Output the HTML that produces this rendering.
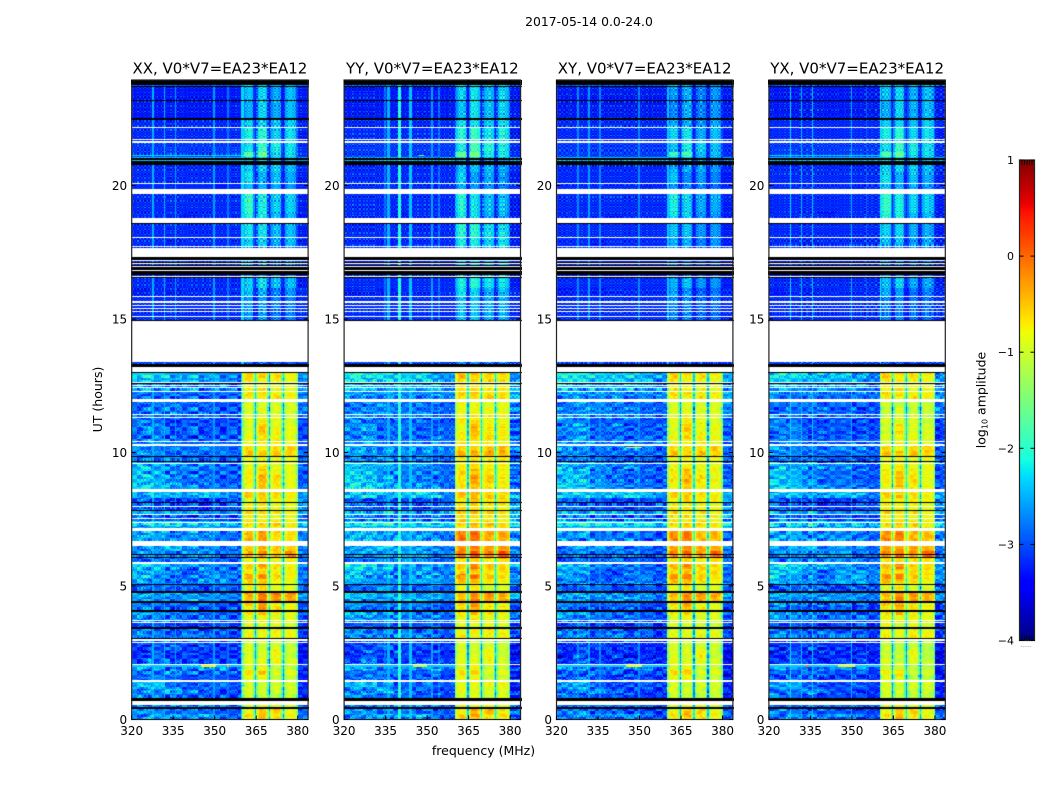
<!DOCTYPE html>
<html lang="en">
<head>
<meta charset="utf-8">
<title>2017-05-14 dynamic spectra</title>
<style>
  html, body { margin: 0; padding: 0; background: #fff; }
  #figure { position: relative; width: 1050px; height: 800px; overflow: hidden; background: #fff; }
  #figure canvas { position: absolute; display: block; }
  #overlay { position: absolute; left: 0; top: 0; }
  text { font-family: "DejaVu Sans", "Liberation Sans", sans-serif; fill: #000; }
</style>
</head>
<body>
<div id="figure">
  <svg id="overlay" width="1050" height="800" viewBox="0 0 1050 800">
    <text x="589" y="26" text-anchor="middle" font-size="12.4">2017-05-14 0.0-24.0</text>
    <text x="483.5" y="755" text-anchor="middle" font-size="12.5">frequency (MHz)</text>
    <text transform="translate(102 399.5) rotate(-90)" text-anchor="middle" font-size="12.5">UT (hours)</text>
    <text transform="translate(985.5 400) rotate(-90)" text-anchor="middle" font-size="12.5">log<tspan font-size="8" dy="2">10</tspan><tspan dy="-2"> amplitude</tspan></text>
    <text x="1026" y="647" text-anchor="middle" font-size="6" style="fill:#777">......</text>
  </svg>
</div>
<script>
// Axis ticks and labels
const frequencyTicks = [320, 335, 350, 365, 380];
const hourTicks = [0, 5, 10, 15, 20];
const colorTicks = [1, 0, -1, -2, -3, -4];
const panelTitles = ["XX, V0*V7=EA23*EA12", "YY, V0*V7=EA23*EA12", "XY, V0*V7=EA23*EA12", "YX, V0*V7=EA23*EA12"];

// Frequency bin edges (MHz) for the background columns
const backgroundEdges = [320, 326, 332, 338, 344, 350, 355, 360];

// Upper time edge (hours) of every row of the level tables below
const rowTops = [
  0.10,0.20,0.40,0.70,0.95,1.15,1.42,1.65,1.85,2.05,2.30,2.60,2.85,3.03,3.25,3.45,3.65,3.90,4.10,4.25,
  4.45,4.60,4.80,5.07,5.25,5.45,5.65,5.90,6.10,6.30,6.50,6.80,7.06,7.25,7.45,7.65,7.85,8.10,8.30,8.60,
  8.85,9.15,9.40,9.65,9.87,10.05,10.30,10.50,10.75,11.05,11.30,11.45,11.90,12.10,12.30,12.60,12.80,13.01,13.40,15.85,
  16.15,16.55,17.70,18.05,18.60,19.00,19.70,20.10,20.50,20.90,21.05,21.25,21.65,22.15,22.50,23.20,23.70,24.00
];

// Background level per row and frequency bin, in tenths of log10 amplitude
const backgroundLevels = [
  [-26,-25,-27,-28,-27,-28,-29],[-27,-24,-25,-24,-23,-26,-28],[-25,-26,-28,-27,-28,-29,-29],[-27,-27,-26,-26,-26,-27,-28],
  [-25,-27,-29,-28,-29,-29,-30],[-27,-26,-24,-27,-28,-30,-30],[-24,-23,-27,-29,-28,-27,-29],[-28,-26,-28,-30,-28,-29,-30],
  [-27,-28,-26,-27,-29,-27,-29],[-24,-25,-28,-26,-25,-25,-28],[-30,-27,-29,-31,-29,-30,-30],[-31,-28,-31,-29,-31,-30,-31],
  [-30,-29,-28,-30,-29,-31,-30],[-29,-28,-27,-28,-28,-29,-29],[-26,-27,-28,-26,-27,-29,-30],[-27,-28,-29,-28,-30,-28,-30],
  [-30,-29,-30,-31,-30,-29,-31],[-26,-27,-27,-28,-28,-28,-29],[-24,-25,-27,-27,-28,-29,-29],[-27,-29,-30,-28,-29,-30,-30],
  [-26,-27,-28,-28,-27,-29,-30],[-25,-26,-27,-24,-25,-26,-27],[-24,-25,-25,-26,-26,-26,-27],[-29,-28,-27,-29,-30,-28,-29],
  [-25,-26,-27,-27,-25,-26,-27],[-23,-26,-28,-28,-26,-25,-28],[-24,-24,-27,-29,-26,-27,-27],[-22,-23,-25,-26,-26,-27,-28],
  [-28,-27,-28,-26,-27,-28,-29],[-26,-26,-27,-26,-25,-28,-27],[-26,-25,-24,-26,-26,-27,-28],[-24,-26,-25,-25,-26,-28,-28],
  [-25,-24,-27,-26,-26,-27,-28],[-25,-24,-25,-24,-24,-25,-26],[-22,-21,-21,-23,-23,-22,-24],[-27,-29,-29,-30,-29,-30,-30],
  [-24,-25,-24,-25,-26,-26,-26],[-28,-29,-30,-30,-31,-30,-29],[-29,-30,-30,-31,-31,-31,-29],[-24,-23,-25,-24,-23,-24,-27],
  [-22,-23,-25,-26,-27,-27,-28],[-23,-24,-26,-28,-27,-29,-29],[-23,-24,-27,-27,-28,-28,-28],[-24,-25,-25,-27,-26,-28,-29],
  [-27,-28,-27,-29,-28,-29,-29],[-26,-26,-28,-27,-28,-27,-28],[-25,-27,-27,-27,-26,-27,-28],[-27,-25,-28,-28,-28,-28,-28],
  [-28,-27,-29,-29,-29,-29,-29],[-27,-26,-29,-28,-29,-30,-29],[-27,-28,-30,-29,-29,-30,-30],[-26,-27,-28,-27,-27,-28,-29],
  [-28,-27,-27,-28,-28,-29,-29],[-28,-29,-29,-28,-29,-29,-29],[-27,-28,-27,-28,-28,-28,-28],[-25,-26,-27,-26,-27,-26,-29],
  [-23,-24,-25,-24,-25,-25,-28],[-22,-22,-24,-25,-24,-26,-27],[-31,-31,-31,-31,-31,-31,-31],[-32,-32,-32,-32,-32,-32,-32],
  [-33,-32,-33,-32,-32,-32,-32],[-32,-32,-32,-32,-32,-32,-32],[-32,-32,-32,-32,-32,-32,-32],[-32,-32,-33,-32,-32,-32,-32],
  [-32,-32,-32,-32,-32,-32,-32],[-32,-32,-32,-33,-32,-32,-32],[-32,-32,-32,-32,-32,-32,-32],[-32,-32,-32,-32,-32,-33,-32],
  [-32,-32,-32,-32,-32,-32,-32],[-32,-32,-32,-32,-32,-32,-32],[-24,-24,-24,-24,-24,-24,-24],[-31,-31,-31,-31,-31,-31,-31],
  [-31,-31,-31,-31,-31,-31,-31],[-32,-32,-32,-32,-32,-32,-32],[-32,-32,-32,-32,-32,-32,-32],[-33,-33,-33,-33,-33,-33,-33],
  [-33,-33,-33,-33,-33,-33,-33],[-29,-29,-29,-29,-29,-29,-29]
];

// Level of the four bright 360-380 MHz blocks per row, XX panel, tenths of log10 amplitude
const blockLevels = [
  [-8,-6,-7,-9],[-7,-5,-8,-8],[-9,-6,-6,-9],[-10,-9,-9,-10],[-11,-11,-12,-11],[-10,-11,-11,-11],[-10,-11,-10,-10],[-9,-9,-11,-11],
  [-7,-6,-10,-9],[-10,-9,-11,-11],[-9,-10,-9,-10],[-10,-10,-8,-11],[-10,-11,-10,-11],[-10,-10,-11,-11],[-8,-9,-8,-8],[-9,-9,-8,-9],
  [-9,-10,-9,-10],[-9,-8,-9,-9],[-7,-6,-8,-9],[-8,-4,-7,-8],[-6,-3,-8,-9],[-5,-2,-3,-4],[-4,-2,-2,-3],[-8,-7,-9,-9],
  [-6,-6,-8,-9],[-4,-3,-7,-8],[-8,-7,-8,-8],[-6,-4,-7,-8],[-9,-8,-9,-8],[-4,-3,-5,-2],[-6,-5,-6,-6],[-4,-3,-7,-7],
  [-5,-4,-7,-7],[-9,-7,-8,-8],[-7,-7,-6,-8],[-8,-8,-9,-9],[-6,-7,-7,-8],[-8,-8,-9,-9],[-9,-7,-8,-8],[-6,-6,-7,-8],
  [-9,-6,-8,-9],[-8,-5,-7,-9],[-8,-6,-8,-9],[-9,-8,-9,-9],[-9,-9,-9,-9],[-5,-6,-5,-6],[-7,-8,-7,-6],[-9,-8,-8,-9],
  [-9,-7,-8,-9],[-10,-6,-9,-9],[-9,-8,-9,-10],[-10,-9,-9,-10],[-10,-10,-10,-10],[-8,-9,-7,-8],[-7,-7,-8,-8],[-8,-8,-9,-9],
  [-7,-9,-8,-9],[-6,-7,-7,-8],[-27,-27,-28,-28],[-25,-25,-26,-26],[-23,-24,-26,-25],[-22,-21,-23,-23],[-24,-24,-25,-25],[-22,-22,-24,-23],
  [-21,-21,-23,-23],[-19,-20,-23,-23],[-18,-20,-22,-22],[-23,-24,-24,-25],[-21,-24,-23,-24],[-22,-22,-22,-23],[-22,-21,-22,-22],[-16,-15,-21,-21],
  [-21,-18,-20,-21],[-20,-19,-22,-21],[-22,-22,-23,-22],[-24,-22,-24,-23],[-23,-22,-24,-23],[-20,-21,-22,-22]
];

// Level of the 380-384 MHz edge per row, tenths of log10 amplitude
const edgeLevels = [
  -27,-27,-28,-27,-31,-31,-31,-32,-32,-30,-33,-33,-32,-31,-30,-30,-31,-29,-28,-30,
  -29,-26,-25,-28,-27,-27,-27,-26,-27,-27,-27,-26,-27,-25,-22,-27,-25,-26,-26,-25,
  -28,-29,-29,-28,-29,-28,-28,-29,-30,-30,-29,-28,-27,-27,-27,-27,-27,-26,-31,-32,
  -32,-33,-32,-33,-33,-33,-33,-32,-33,-32,-25,-32,-32,-33,-32,-33,-33,-28
];

// Shape across the 360-380 MHz blocks, one value per 0.5 MHz channel, tenths
const blockProfile = [
  -5,-2,0,1,1,1,1,0,-6,-16,
  -5,-1,1,1,1,1,1,-1,-7,-16,
  -4,-1,0,1,1,1,0,0,-7,-16,
  -6,-1,0,1,1,1,0,0,-1,-5
];
const profileFloor = -33;

// Coarse time bins (upper edge, hours) for the per-panel offsets
const offsetBinTops = [1.5, 3, 4.5, 5.1, 6, 7.1, 8.6, 10.3, 12, 13.2, 16, 18.6, 21, 24];
const blockOffsetXX = [0,0,0,0,0,0,0,0,0,0,-2,-2,-2,-2];
const blockOffsetYY = [1,0,0,-1,1,3,1,1,1,1,0,0,-3,-1];
const blockOffsetXY = [0,0,-1,-1,1,2,0,0,0,0,-3,-4,-4,-4];
const blockOffsetYX = [0,-1,0,-1,1,2,0,0,-1,0,-3,-3,-2,-2];
const backgroundOffsetXX = [-1,-1,-1,-1,-1,-1,-1,-1,-1,-1,0,0,0,0];
const backgroundOffsetYY = [-1,-1,0,0,0,0,0,0,0,1,0,0,0,0];
const backgroundOffsetXY = [-2,-2,-1,-1,-2,-2,0,-1,0,1,0,0,0,0];
const backgroundOffsetYX = [-2,-2,-1,-1,0,-1,-1,-1,-1,0,0,0,0,0];

// Narrow-band interference: [MHz, level in tenths], one list per panel
const channelLinesXX = [[327.7,-25],[331.7,-25],[335.6,-26],[349.7,-26],[354.8,-28],[360,-23]];
const channelLinesYY = [[334.9,-28],[336,-25],[340,-20],[344,-24],[351.9,-26],[354.2,-28]];
const channelLinesXY = [[327.9,-27],[331.9,-26],[335.8,-27],[349.9,-27],[360.2,-24]];
const channelLinesYX = [[327.9,-23],[331.9,-25],[335.8,-24],[349.9,-25],[355.1,-29],[360.2,-22]];

// Short-lived interference: [hour, MHz from, MHz to, level in tenths], one list per panel
const burstsXX = [[2.0,320,360,-24],[2.0,345,350.5,-8],[2.0,333.5,334.2,-1],[2.0,354.5,355,-4],[21.13,320,360,-23],[21.13,333.5,334.2,-4],[21.13,347.8,348.4,0]];
const burstsYY = [[2.0,320,360,-24],[2.0,345,350,-11],[2.0,333.5,334.2,0],[21.13,347,349,-14]];
const burstsXY = [[2.0,320,360,-24],[2.0,345,351,-8],[2.0,333.5,334.2,0],[10.2,345,351,-9]];
const burstsYX = [[2.0,320,360,-24],[2.0,345,351,-9],[2.0,333.5,334.2,0],[21.13,320,360,-23],[21.13,347.8,348.4,0]];

// Flagged time ranges: [hour from, hour to]
const whiteGaps = [
  [22.15,22.19],[21.69,21.73],[21.61,21.65],[20.05,20.09],[19.68,19.88],[18.59,18.79],[18.03,18.07],[17.68,17.72],[17.33,17.66],
  [17.16,17.20],[17.05,17.09],[16.93,16.97],[16.81,16.85],[16.56,16.61],[15.81,15.85],[15.60,15.67],[15.49,15.52],[15.38,15.42],
  [15.27,15.31],[15.07,15.11],[13.39,14.93],[13.01,13.21],[12.61,12.65],[12.50,12.54],[12.43,12.46],[12.28,12.31],[11.89,12.00],
  [11.42,11.46],[11.29,11.33],[10.39,10.43],[10.24,10.32],[9.58,9.62],[8.53,8.63],[7.96,8.00],[7.67,7.71],[7.51,7.56],[7.35,7.40],
  [7.15,7.19],[7.06,7.13],[6.50,6.68],[5.83,5.90],[3.68,3.73],[3.60,3.64],[2.95,3.00],[2.86,2.91],[2.03,2.07],[1.42,1.49],[0.53,0.70]
];
const blackGaps = [
  [23.78,24.00],[23.70,23.74],[23.16,23.20],[22.46,22.51],[20.95,21.03],[20.82,20.92],[20.75,20.79],[18.55,18.59],[17.20,17.32],
  [17.09,17.15],[16.97,17.04],[16.85,16.93],[16.63,16.80],[16.52,16.56],[14.93,14.96],[13.21,13.32],[12.98,13.01],[12.56,12.60],
  [9.82,9.87],[9.64,9.68],[8.09,8.13],[7.81,7.85],[6.15,6.21],[6.07,6.10],[5.03,5.07],[4.73,4.82],[4.37,4.45],[4.04,4.11],
  [3.40,3.45],[3.03,3.07],[0.70,0.81],[0.40,0.46]
];

// Cell-to-cell texture of the noise floor, estimated
const grainRows = [.3,-.8,.6,-.2,.9,-.5,.1,-.9,.7,.4,-.6,.2,-1,.8,-.3,.5,-.7,1,-.1,.6,-.9,.3,.7,-.4,-.8,.9,.2,-.5,.6,-.2,.8,-1,.4,.1,-.7,.9,-.3,.5,-.6,.7,-.9,.2,1,-.4,.3,-.8,.6,-.1,.8,-.5,.4,-.7,.9];
const grainCols = [-.6,.9,-.2,.5,-1,.3,.8,-.4,.7,-.9,.1,.6,-.7,1,-.3,.4,-.8,.2,.9,-.5,-.1,.7,-.6,.8,-.9,.3,.5,-.2,1,-.7,.4,-.4,.9,-.8,.1,.6,-1,.7,.2,-.5,.8,-.3,.5,-.9,.3,.7,-.6];
// Broader blotches of the daytime part (below 13 h), estimated
const mottleRows = [.7,-.4,.9,-.8,.2,-1,.5,.6,-.7,.3,-.2,.8,-.9,.4,1,-.5,-.3,.7,-.6,.9,.1,-.8,.5,-.4,.6,-.9,.3,.8,-.1];
const mottleCols = [.5,-.9,.2,.8,-.6,-.1,1,-.4,.6,-.8,.3,.9,-.7,.4,-.2,.7,-1,.1,.6,-.5,.8,-.3,.4];

// Layout
const panelLefts = [131.7, 344.1, 556.5, 768.9];
const panelWidth = 176.4;
const plotTop = 80, plotBottom = 719.5;
const pxPerMHz = 2.767, pxPerHour = 26.7;
const cbLeft = 1019.5, cbRight = 1034.5, cbTop = 160, cbBottom = 640.5;
const rowStep = 0.05, channelStep = 0.5;

const blockOffsets = [blockOffsetXX, blockOffsetYY, blockOffsetXY, blockOffsetYX];
const backgroundOffsets = [backgroundOffsetXX, backgroundOffsetYY, backgroundOffsetXY, backgroundOffsetYX];
const channelLines = [channelLinesXX, channelLinesYY, channelLinesXY, channelLinesYX];
const bursts = [burstsXX, burstsYY, burstsXY, burstsYX];
const panelCodes = ["xx", "yy", "xy", "yx"];

const xScale = (panel, mhz) => panelLefts[panel] + (mhz - 320) * pxPerMHz;
const yScale = (hour) => plotBottom - hour * pxPerHour;
const colorScale = (value) => cbBottom - (value + 4) * (cbBottom - cbTop) / 5;

function ramp(t, points) {
  if (t <= points[0][0]) return points[0][1];
  for (let i = 1; i < points.length; i++) {
    if (t <= points[i][0]) {
      const a = points[i - 1], b = points[i];
      return a[1] + (b[1] - a[1]) * (t - a[0]) / (b[0] - a[0]);
    }
  }
  return points[points.length - 1][1];
}
const jetR = [[0,0],[.35,0],[.66,1],[.89,1],[1,.5]];
const jetG = [[0,0],[.125,0],[.375,1],[.64,1],[.91,0],[1,0]];
const jetB = [[0,.5],[.11,1],[.34,1],[.65,0],[1,0]];
function jetColor(value) {
  const t = Math.max(0, Math.min(1, (value + 4) / 5));
  return "rgb(" + Math.round(255 * ramp(t, jetR)) + "," + Math.round(255 * ramp(t, jetG)) + "," + Math.round(255 * ramp(t, jetB)) + ")";
}

function lookup(tops, value) {
  for (let i = 0; i < tops.length; i++) if (value < tops[i]) return i;
  return tops.length - 1;
}

function cellLevel(panel, rowIndex, colIndex, hour, mhz) {
  const row = lookup(rowTops, hour);
  const bin = lookup(offsetBinTops, hour);
  let level;
  if (mhz < 360) {
    const node = lookup(backgroundEdges.slice(1), mhz);
    level = backgroundLevels[row][node] + backgroundOffsets[panel][bin];
  } else if (mhz < 380) {
    const block = Math.floor((mhz - 360) / 5);
    const profile = blockProfile[Math.floor((mhz - 360) / channelStep)];
    level = Math.max(profileFloor, blockLevels[row][block] + blockOffsets[panel][bin] + profile);
  } else {
    level = edgeLevels[row] + backgroundOffsets[panel][bin];
  }
  const bright = level > -15;
  const grain = grainRows[(rowIndex + panel * 11) % grainRows.length] * grainCols[(colIndex + panel * 7) % grainCols.length];
  level += (bright ? 2 : (hour < 13.2 ? 4 : 6.5)) * grain;
  if (hour < 13.2) {
    const blotchA = mottleRows[(Math.floor(rowIndex / 3) + panel * 5) % mottleRows.length] * mottleCols[(Math.floor(colIndex / 4) + panel * 3) % mottleCols.length];
    const blotchB = mottleRows[(Math.floor(rowIndex / 2) + panel * 9 + 7) % mottleRows.length] * mottleCols[(Math.floor(colIndex / 7) + panel * 2 + 5) % mottleCols.length];
    level += (bright ? 1.5 : 4) * (blotchA + blotchB);
  }
  for (const line of channelLines[panel]) {
    if (Math.abs(line[0] - mhz) <= channelStep / 2) level = Math.max(level, line[1] + 2 * grain);
  }
  for (const burst of bursts[panel]) {
    if (Math.abs(burst[0] - hour) <= rowStep / 2 && mhz >= burst[1] && mhz <= burst[2]) level = Math.max(level, burst[3] + grain);
  }
  return level / 10;
}

function drawHeatmap(panel) {
  const figure = document.getElementById("figure");
  const canvas = document.createElement("canvas");
  
  
  const left = Math.floor(panelLefts[panel]);
  const width = Math.ceil(panelWidth) + 1;
  const height = Math.ceil(plotBottom - plotTop);
  canvas.width = width;
  canvas.height = height;
  canvas.style.left = left + "px";
  canvas.style.top = plotTop + "px";
  figure.insertBefore(canvas, figure.firstChild);
  const ctx = canvas.getContext("2d");
  ctx.fillStyle = "#fff";
  ctx.fillRect(0, 0, width, height);
  const right = panelLefts[panel] + panelWidth;
  const rowCount = Math.ceil(24 / rowStep);
  const colCount = Math.ceil(64 / channelStep);
  for (let r = 0; r < rowCount; r++) {
    const hour = (r + 0.5) * rowStep;
    const y0 = Math.round(yScale((r + 1) * rowStep)) - plotTop;
    const y1 = Math.round(yScale(r * rowStep)) - plotTop;
    if (y1 <= 0) continue;
    for (let c = 0; c < colCount; c++) {
      const mhz = 320 + (c + 0.5) * channelStep;
      const x0 = Math.round(xScale(panel, 320 + c * channelStep)) - left;
      const x1 = Math.round(Math.min(right, xScale(panel, 320 + (c + 1) * channelStep))) - left;
      if (x1 <= x0) continue;
      ctx.fillStyle = jetColor(cellLevel(panel, r, c, hour, mhz));
      ctx.fillRect(x0, y0, x1 - x0, y1 - y0);
    }
  }
  const drawGaps = (gaps, color) => {
    ctx.fillStyle = color;
    for (const gap of gaps) {
      const top = Math.round(yScale(gap[1])) - plotTop;
      const bottom = Math.round(yScale(gap[0])) - plotTop;
      ctx.fillRect(0, top, width, Math.max(1, bottom - top));
    }
  };
  drawGaps(whiteGaps, "#fff");
  drawGaps(blackGaps, "#000");
}

const svgNS = "http://www.w3.org/2000/svg";
const overlay = document.getElementById("overlay");
function addLine(x1, y1, x2, y2, width, color) {
  const el = document.createElementNS(svgNS, "line");
  el.setAttribute("x1", x1);
  el.setAttribute("y1", y1);
  el.setAttribute("x2", x2);
  el.setAttribute("y2", y2);
  el.setAttribute("stroke", color);
  el.setAttribute("stroke-width", width);
  overlay.appendChild(el);
  return el;
}
function addText(x, y, anchor, size, content) {
  const el = document.createElementNS(svgNS, "text");
  el.setAttribute("x", x);
  el.setAttribute("y", y);
  el.setAttribute("text-anchor", anchor);
  el.setAttribute("font-size", size);
  el.textContent = content;
  overlay.appendChild(el);
  return el;
}

function drawAxes(panel) {
  const code = panelCodes[panel];
  const left = panelLefts[panel], right = left + panelWidth;
  const frame = document.createElementNS(svgNS, "rect");
  frame.setAttribute("x", left);
  frame.setAttribute("y", plotTop);
  frame.setAttribute("width", panelWidth);
  frame.setAttribute("height", plotBottom - plotTop);
  frame.setAttribute("fill", "none");
  frame.setAttribute("stroke", "#222");
  frame.setAttribute("stroke-width", "1.2");
  
  
  overlay.appendChild(frame);

  const title = addText(left + panelWidth / 2, 73.5, "middle", 15, panelTitles[panel]);
  
  

  for (const tick of frequencyTicks) {
    const x = xScale(panel, tick);
    const bottomTick = addLine(x, plotBottom, x, plotBottom - 4, 1, "#000");
    
    
    const topTick = addLine(x, plotTop, x, plotTop + 4, 1, "#000");
    
    
    const label = addText(x, 735, "middle", 12, String(tick));
    
    
  }
  for (const tick of hourTicks) {
    const y = yScale(tick);
    const leftTick = addLine(left, y, left + 4, y, 1, "#000");
    
    
    const rightTick = addLine(right, y, right - 4, y, 1, "#000");
    
    
    const label = addText(left - 4.5, y + 4.5, "end", 12, String(tick));
    
    
  }
}

function drawColorbar() {
  const figure = document.getElementById("figure");
  const canvas = document.createElement("canvas");
  
  
  const left = Math.floor(cbLeft), top = Math.floor(cbTop);
  const width = Math.ceil(cbRight - cbLeft), height = Math.ceil(cbBottom - cbTop);
  canvas.width = width;
  canvas.height = height;
  canvas.style.left = left + "px";
  canvas.style.top = top + "px";
  figure.insertBefore(canvas, figure.firstChild);
  const ctx = canvas.getContext("2d");
  const span = colorTicks[0] - colorTicks[colorTicks.length - 1];
  for (let y = 0; y < height; y++) {
    ctx.fillStyle = jetColor(colorTicks[0] - span * (y + 0.5) / height);
    ctx.fillRect(0, y, width, 1);
  }
  const frame = document.createElementNS(svgNS, "rect");
  frame.setAttribute("x", cbLeft);
  frame.setAttribute("y", cbTop);
  frame.setAttribute("width", cbRight - cbLeft);
  frame.setAttribute("height", cbBottom - cbTop);
  frame.setAttribute("fill", "none");
  frame.setAttribute("stroke", "#222");
  frame.setAttribute("stroke-width", "1.2");
  
  
  overlay.appendChild(frame);
  for (const tick of colorTicks) {
    const y = colorScale(tick);
    const leftTick = addLine(cbLeft, y, cbLeft + 4, y, 1, "#000");
    
    
    const rightTick = addLine(cbRight, y, cbRight - 4, y, 1, "#000");
    
    
    const label = addText(cbLeft - 5.5, y + 4, "end", 11, tick < 0 ? "\u2212" + (-tick) : String(tick));
    
    
  }
  for (const x of [2.5, 5, 7.5, 10, 12.5]) {
    const topMark = addLine(cbLeft + x, cbTop, cbLeft + x, cbTop + 5, 0.8, "#000");
    
    
    const bottomMark = addLine(cbLeft + x, cbBottom, cbLeft + x, cbBottom - 5, 0.8, "#000");
    
    
  }
}

for (let p = 3; p >= 0; p--) drawHeatmap(p);
for (let p = 0; p < 4; p++) drawAxes(p);
drawColorbar();
</script>
</body>
</html>
